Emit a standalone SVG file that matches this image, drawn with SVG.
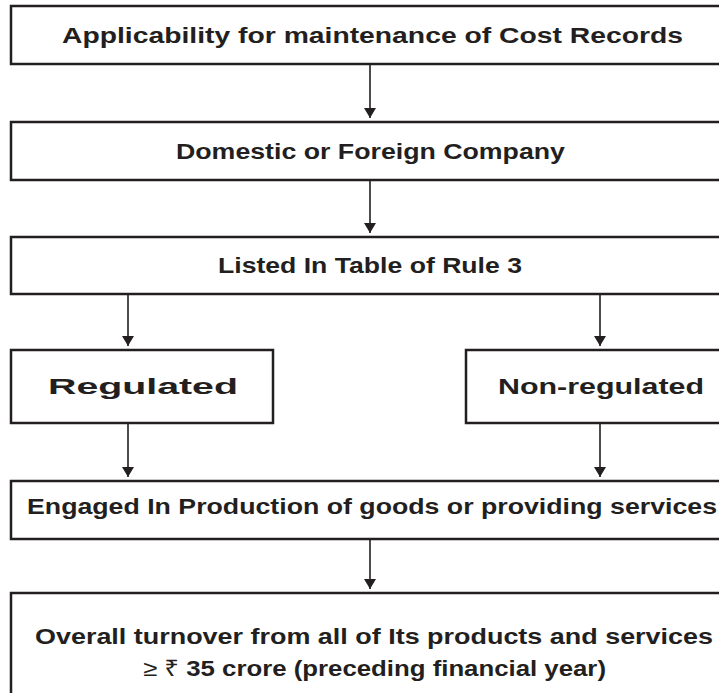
<svg xmlns="http://www.w3.org/2000/svg" width="719" height="693" viewBox="0 0 719 693">
<defs>
<style>
.box{fill:#fff;stroke:#231f20;stroke-width:2.5}
.lbl{font-family:"Liberation Sans",Arial,"Noto Sans",sans-serif;font-weight:bold;font-size:22px;fill:#231f20;text-anchor:middle}
.conn{stroke:#231f20;stroke-width:1.6;fill:none;marker-end:url(#ah)}
</style>
<marker id="ah" viewBox="0 0 10 16" refX="10" refY="8" markerUnits="userSpaceOnUse" markerWidth="10" markerHeight="16" orient="auto">
<path d="M0,2 L10,8 L0,14 Z" fill="#231f20"/>
</marker>
</defs>
<rect width="719" height="693" fill="#fff"/>
<g id="connectors">
<line class="conn" x1="370" y1="65" x2="370" y2="118"/>
<line class="conn" x1="370" y1="181" x2="370" y2="233"/>
<line class="conn" x1="128" y1="295" x2="128" y2="346"/>
<line class="conn" x1="600" y1="295" x2="600" y2="346"/>
<line class="conn" x1="128" y1="424" x2="128" y2="477"/>
<line class="conn" x1="600" y1="424" x2="600" y2="477"/>
<line class="conn" x1="370" y1="540" x2="370" y2="589"/>
</g>
<g id="n1">
<rect class="box" x="11" y="6" width="722" height="58"/>
<text class="lbl" x="372.5" y="43" textLength="621" lengthAdjust="spacingAndGlyphs">Applicability for maintenance of Cost Records</text>
</g>
<g id="n2">
<rect class="box" x="11" y="122" width="722" height="58"/>
<text class="lbl" x="370.5" y="159" textLength="389" lengthAdjust="spacingAndGlyphs">Domestic or Foreign Company</text>
</g>
<g id="n3">
<rect class="box" x="11" y="237" width="722" height="57"/>
<text class="lbl" x="370" y="273" textLength="304" lengthAdjust="spacingAndGlyphs">Listed In Table of Rule 3</text>
</g>
<g id="n4">
<rect class="box" x="11" y="350" width="262" height="73"/>
<text class="lbl" x="143" y="394" textLength="190" lengthAdjust="spacingAndGlyphs">Regulated</text>
</g>
<g id="n5">
<rect class="box" x="466" y="350" width="270" height="73"/>
<text class="lbl" x="601" y="394" textLength="206" lengthAdjust="spacingAndGlyphs">Non-regulated</text>
</g>
<g id="n6">
<rect class="box" x="11" y="481" width="722" height="58"/>
<text class="lbl" x="372" y="514" textLength="690" lengthAdjust="spacingAndGlyphs">Engaged In Production of goods or providing services</text>
</g>
<g id="n7">
<rect class="box" x="11" y="593" width="722" height="110"/>
<text class="lbl" x="374" y="644" textLength="678" lengthAdjust="spacingAndGlyphs">Overall turnover from all of Its products and services</text>
<text class="lbl" x="374.5" y="676" textLength="463" lengthAdjust="spacingAndGlyphs"><tspan font-weight="normal">≥ ₹</tspan> 35 crore (preceding financial year)</text>
</g>
</svg>
